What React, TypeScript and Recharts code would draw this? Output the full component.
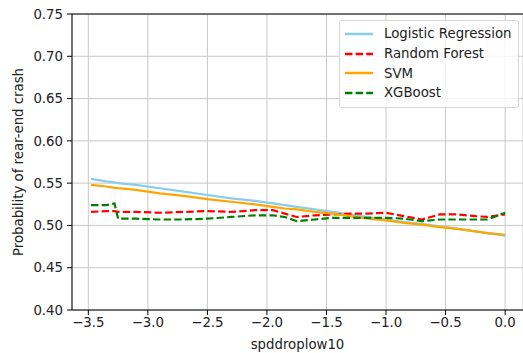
import React from "react";
import {
  LineChart,
  Line,
  XAxis,
  YAxis,
  CartesianGrid,
  Legend,
  ReferenceLine,
} from "recharts";

const spddroplow10 = [
  -3.477, -3.35, -3.28, -3.25, -3.1, -2.9, -2.7, -2.5, -2.3, -2.1, -1.95,
  -1.85, -1.75, -1.6, -1.45, -1.3, -1.15, -1.0, -0.85, -0.7, -0.55, -0.4,
  -0.25, -0.15, 0,
];

const logistic = [
  0.555, 0.552, 0.551, 0.55, 0.548, 0.544, 0.54, 0.536, 0.532, 0.529, 0.526,
  0.524, 0.522, 0.519, 0.516, 0.513, 0.51, 0.507, 0.504, 0.502, 0.499, 0.496,
  0.493, 0.491, 0.488,
];

const randomForest = [
  0.516, 0.517, 0.517, 0.516, 0.516, 0.515, 0.516, 0.517, 0.516, 0.518, 0.518,
  0.514, 0.51, 0.512, 0.513, 0.514, 0.514, 0.515, 0.511, 0.507, 0.513, 0.513,
  0.511, 0.51, 0.513,
];

const svm = [
  0.548, 0.546, 0.5445, 0.544, 0.542, 0.538, 0.535, 0.531, 0.528, 0.525,
  0.522, 0.52, 0.519, 0.516, 0.514, 0.511, 0.508, 0.506, 0.503, 0.501, 0.498,
  0.496, 0.493, 0.491, 0.489,
];

const xgboost = [
  0.524, 0.524, 0.526, 0.508, 0.508, 0.507, 0.507, 0.508, 0.51, 0.512, 0.512,
  0.51, 0.505, 0.507, 0.509, 0.509, 0.509, 0.509, 0.508, 0.505, 0.507, 0.507,
  0.507, 0.507, 0.515,
];

const xTicks = [-3.5, -3.0, -2.5, -2.0, -1.5, -1.0, -0.5, 0.0];
const yTicks = [0.4, 0.45, 0.5, 0.55, 0.6, 0.65, 0.7, 0.75];

const series = [
  { key: "lr", name: "Logistic Regression", color: "#87CEEB", dash: undefined },
  { key: "rf", name: "Random Forest", color: "#ff0000", dash: "7.4 3.2" },
  { key: "svm", name: "SVM", color: "#FFA500", dash: undefined },
  { key: "xgb", name: "XGBoost", color: "#008000", dash: "7.4 3.2" },
];

const data = spddroplow10.map((x, i) => ({
  x,
  lr: logistic[i],
  rf: randomForest[i],
  svm: svm[i],
  xgb: xgboost[i],
}));

const font = "'DejaVu Sans', sans-serif";

const fmtX = (v: number) =>
  v < 0 ? "\u2212" + Math.abs(v).toFixed(1) : v.toFixed(1);

const LegendBox = () => (
  <div
    style={{
      border: "1px solid #d6d6d6",
      borderRadius: 3,
      background: "rgba(255,255,255,0.8)",
      padding: "3px 0 4px 0",
      fontFamily: font,
      fontSize: 13.3,
      color: "#222",
    }}
  >
    {series.map((s) => (
      <div
        key={s.key}
        style={{ display: "flex", alignItems: "center", height: 19.7 }}
      >
        <svg width={44} height={10} style={{ flex: "none" }}>
          <line
            x1={5}
            x2={33}
            y1={5}
            y2={5}
            stroke={s.color}
            strokeWidth={2.5}
            strokeDasharray={s.dash}
          />
        </svg>
        <span>{s.name}</span>
      </div>
    ))}
  </div>
);

export default function App() {
  return (
    <div style={{ position: "absolute", left: 0, top: 0, background: "#fff" }}>
      <LineChart
        width={523}
        height={353}
        data={data}
        margin={{ top: 14, right: 0, left: 0, bottom: 0 }}
      >
        <CartesianGrid stroke="#c8c8c8" strokeWidth={1} />
        <XAxis
          dataKey="x"
          type="number"
          domain={[-3.637, 0.15]}
          ticks={xTicks}
          tickFormatter={fmtX}
          allowDataOverflow
          height={43}
          tickSize={5}
          tickMargin={3}
          stroke="#000"
          tick={{ fill: "#222", fontFamily: font, fontSize: 13.3 }}
          label={{
            value: "spddroplow10",
            position: "insideBottom",
            offset: 4,
            fill: "#222",
            fontFamily: font,
            fontSize: 13.3,
          }}
        />
        <YAxis
          type="number"
          domain={[0.4, 0.75]}
          ticks={yTicks}
          tickFormatter={(v: number) => v.toFixed(2)}
          allowDataOverflow
          width={72}
          tickSize={5}
          tickMargin={4}
          stroke="#000"
          tick={{ fill: "#222", fontFamily: font, fontSize: 13.3 }}
          label={{
            value: "Probability of rear-end crash",
            angle: -90,
            position: "insideLeft",
            offset: 18,
            fill: "#222",
            fontFamily: font,
            fontSize: 13.3,
            style: { textAnchor: "middle" },
          }}
        />
        <ReferenceLine y={0.75} stroke="#000" strokeWidth={1} />
        {series.map((s) => (
          <Line
            key={s.key}
            type="linear"
            dataKey={s.key}
            name={s.name}
            stroke={s.color}
            strokeWidth={2.2}
            strokeDasharray={s.dash}
            dot={false}
            activeDot={false}
            isAnimationActive={false}
          />
        ))}
        <Legend
          layout="vertical"
          align="center"
          verticalAlign="middle"
          content={() => <LegendBox />}
          wrapperStyle={{ top: 20, left: 339, width: 180 }}
        />
      </LineChart>
    </div>
  );
}
